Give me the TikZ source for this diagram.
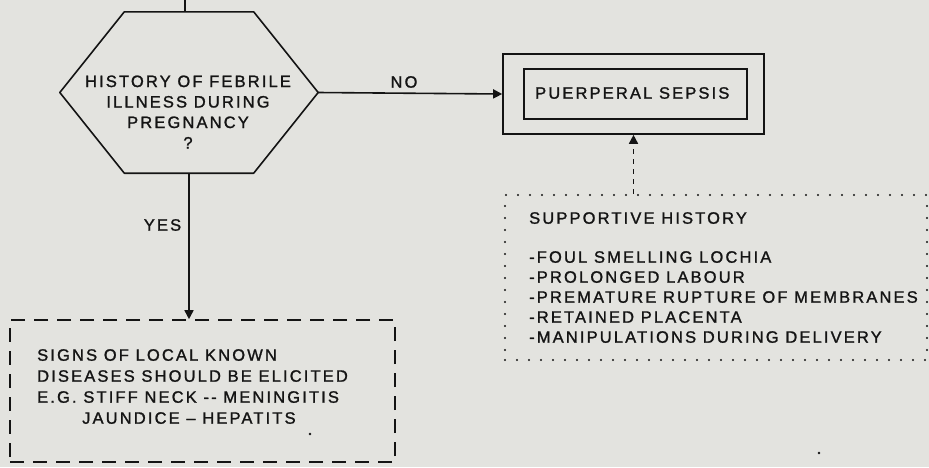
\documentclass[tikz,border=0pt]{standalone}
\usepackage{fontspec}
\newfontfamily\dmfont[LetterSpace=13, FakeBold=1.3]{Liberation Sans}
\usetikzlibrary{arrows.meta,calc}
\definecolor{paper}{HTML}{E3E3DF}
\definecolor{ink}{HTML}{141414}
\begin{document}
\begin{tikzpicture}[x=1pt,y=-1pt,
  lbl/.style={font=\dmfont\fontsize{16.5}{20.5}\selectfont, text=ink, inner sep=0pt},
  frame/.style={draw=ink, line width=1.6pt, inner sep=0pt},
  wire/.style={draw=ink, line width=1.6pt},
  link/.style={wire, -{Triangle[length=9pt,width=9pt]}},
  dashframe/.style={frame, dash pattern=on 14pt off 9pt},
  dotframe/.style={frame, line width=2.2pt, line cap=round, dash pattern=on 0pt off 12pt},
  hintline/.style={link, dash pattern=on 5pt off 5pt}]
\fill[paper] (0,0) rectangle (929,467);
\useasboundingbox (0,0) rectangle (929,467);

% decision hexagon
\node[minimum width=258pt, minimum height=161pt, inner sep=0pt] (hex) at (189,92.5) {};
\draw[wire, line join=round]
  (hex.west) -- ($(hex.north west)+(64.5,0)$) -- ($(hex.north east)+(-64.5,0)$)
  -- (hex.east) -- ($(hex.south east)+(-64.5,0)$) -- ($(hex.south west)+(64.5,0)$) -- cycle;
\node[lbl, align=center] (hextext) at (188,112)
  {HISTORY OF FEBRILE\\ILLNESS DURING\\PREGNANCY\\?};

% incoming line from above
\coordinate (entry) at (185,0);
\draw[wire] (entry) -- (entry |- hex.north);

% diagnosis box (double frame)
\node[frame, minimum width=261pt, minimum height=80pt] (outer) at (633.5,94) {};
\node[frame, minimum width=223pt, minimum height=50pt] (inner) at (635.5,94) {};
\node[lbl, anchor=west] (sepsis) at (535,93) {PUERPERAL SEPSIS};

% supporting history
\node[dotframe, minimum width=422pt, minimum height=165pt] (support) at (716,277.5) {};
\node[lbl, anchor=north west, align=left, font=\dmfont\fontsize{16.5}{20}\selectfont] (suptext) at (529,212)
  {SUPPORTIVE HISTORY\\[19pt]
   -FOUL SMELLING LOCHIA\\
   -PROLONGED LABOUR\\
   -PREMATURE RUPTURE OF MEMBRANES\\
   -RETAINED PLACENTA\\
   -MANIPULATIONS DURING DELIVERY};

% local signs box
\node[dashframe, minimum width=385pt, minimum height=142pt] (signs) at (202.5,391) {};
\node[lbl, anchor=north west, align=left, font=\dmfont\fontsize{16.5}{21}\selectfont] (signtext) at (37,349)
  {SIGNS OF LOCAL KNOWN\\
   DISEASES SHOULD BE ELICITED\\
   E.G. STIFF NECK -{}- MENINGITIS\\
   \hspace*{45pt}JAUNDICE – HEPATITS};

% connectors
\draw[link] (hex.east) -- (outer.west);
\node[lbl] (no) at (404,82) {NO};
\draw[link] (hex.south) -- (hex.south |- signs.north);
\node[lbl] (yes) at (162.5,225) {YES};
\draw[hintline] (support.north -| outer.south) -- (outer.south);

% specks
\fill[ink] (310,434) circle (1.4pt);
\fill[ink] (819,453) circle (1.4pt);
\end{tikzpicture}
\end{document}
